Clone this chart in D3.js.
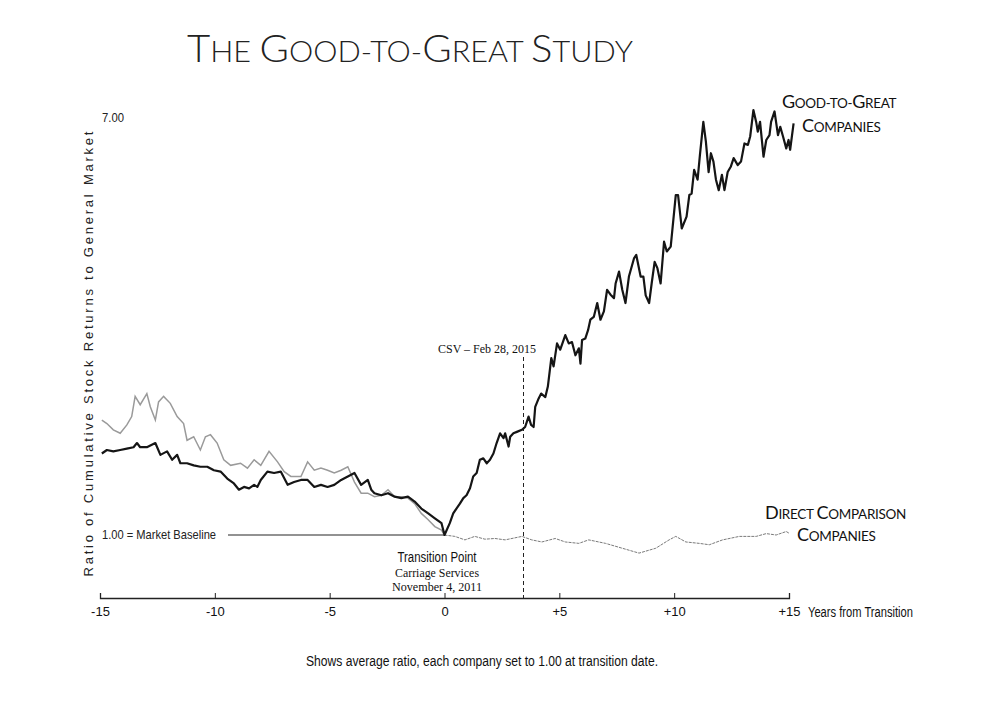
<!DOCTYPE html>
<html>
<head>
<meta charset="utf-8">
<script src="https://cdn.jsdelivr.net/npm/d3@7"></script>
<style>
  body { margin: 0; background: #fff; }
  svg { display: block; }
  .narrow { font-family: "Liberation Sans Narrow", "Arial Narrow", "Liberation Sans", sans-serif; }
  .serif { font-family: "Liberation Serif", "Times New Roman", serif; }
  .caps { font-family: "Lato", "Open Sans", sans-serif; }
</style>
</head>
<body>
<svg width="1005" height="701"></svg>
<script>
// good-to-great companies, [years from transition, ratio to market]
const goodToGreat = [
  [-14.92,2.17],[-14.70,2.22],[-14.42,2.20],[-14.12,2.22],[-13.83,2.24],[-13.54,2.26],[-13.39,2.32],
  [-13.25,2.26],[-12.96,2.26],[-12.59,2.32],[-12.37,2.15],[-12.08,2.20],[-11.86,2.08],[-11.64,2.15],
  [-11.50,2.03],[-11.21,2.03],[-10.92,2.00],[-10.63,1.98],[-10.33,1.98],[-10.04,1.93],[-9.75,1.91],
  [-9.46,1.81],[-9.17,1.74],[-8.95,1.65],[-8.73,1.69],[-8.51,1.67],[-8.29,1.72],[-8.15,1.69],
  [-8.00,1.79],[-7.71,1.91],[-7.42,1.89],[-7.13,1.91],[-6.83,1.72],[-6.55,1.76],[-6.25,1.79],
  [-5.96,1.79],[-5.67,1.69],[-5.38,1.72],[-5.09,1.69],[-4.80,1.72],[-4.50,1.79],[-4.21,1.84],
  [-3.92,1.89],[-3.63,1.72],[-3.34,1.79],[-3.19,1.65],[-3.05,1.60],[-2.75,1.57],[-2.46,1.60],
  [-2.17,1.55],[-1.88,1.53],[-1.59,1.55],[-1.30,1.48],[-1.01,1.38],[-0.71,1.31],[-0.42,1.24],
  [-0.13,1.17],[0,1.00],
  [0.23,1.17],[0.38,1.31],[0.52,1.38],[0.67,1.45],[0.82,1.53],[0.96,1.57],[1.11,1.67],[1.25,1.84],
  [1.40,1.89],[1.54,2.08],[1.69,2.10],[1.84,2.03],[1.98,2.08],[2.13,2.17],[2.27,2.32],[2.42,2.46],
  [2.57,2.39],[2.64,2.46],[2.79,2.27],[2.86,2.41],[3.00,2.46],[3.15,2.48],[3.37,2.51],[3.51,2.55],
  [3.66,2.70],[3.77,2.58],[3.88,2.55],[3.95,2.84],[4.10,2.96],[4.21,3.03],[4.39,2.98],[4.50,3.13],
  [4.65,3.54],[4.75,3.42],[4.90,3.75],[5.04,3.66],[5.26,3.87],[5.41,3.75],[5.55,3.77],[5.70,3.58],
  [5.85,3.68],[5.92,3.46],[5.99,3.80],[6.13,3.82],[6.25,3.94],[6.35,4.09],[6.50,4.13],[6.65,4.33],
  [6.79,4.09],[6.94,4.21],[7.08,4.52],[7.23,4.45],[7.38,4.40],[7.45,4.61],[7.60,4.78],[7.74,4.52],
  [7.88,4.33],[8.03,4.71],[8.25,4.97],[8.35,5.02],[8.54,4.71],[8.66,4.71],[8.76,4.44],[8.91,4.33],
  [9.02,4.61],[9.15,4.92],[9.27,4.83],[9.41,4.61],[9.56,5.21],[9.68,5.07],[9.85,5.14],[10.07,5.88],
  [10.17,5.88],[10.33,5.40],[10.54,5.57],[10.66,5.88],[10.76,5.90],[10.87,6.24],[11.02,6.10],
  [11.12,6.45],[11.27,6.93],[11.38,6.65],[11.50,6.21],[11.60,6.48],[11.71,6.36],[11.82,6.10],
  [11.94,5.95],[12.08,6.17],[12.19,5.95],[12.33,6.21],[12.47,6.29],[12.59,6.41],[12.77,6.31],
  [12.91,6.36],[13.06,6.62],[13.21,6.60],[13.31,6.72],[13.45,7.10],[13.57,6.93],[13.64,6.79],
  [13.74,6.93],[13.89,6.43],[14.01,6.67],[14.15,6.74],[14.22,6.93],[14.37,7.08],[14.52,6.74],
  [14.62,6.86],[14.74,6.72],[14.88,6.55],[14.98,6.67],[15.05,6.53],[15.20,6.91]
];

// direct comparison companies
const comparison = [
  [-14.92,2.65],[-14.70,2.60],[-14.42,2.51],[-14.12,2.46],[-13.83,2.58],[-13.62,2.70],[-13.47,2.99],
  [-13.25,2.87],[-12.96,3.03],[-12.81,2.84],[-12.59,2.65],[-12.45,2.91],[-12.23,2.99],[-11.94,2.89],
  [-11.64,2.70],[-11.36,2.60],[-11.21,2.36],[-10.92,2.41],[-10.63,2.22],[-10.41,2.41],[-10.19,2.44],
  [-9.90,2.32],[-9.61,2.08],[-9.31,2.00],[-8.88,2.03],[-8.58,1.96],[-8.29,2.08],[-8.00,2.00],
  [-7.64,2.20],[-7.27,2.05],[-6.98,1.91],[-6.69,1.84],[-6.25,1.84],[-5.96,2.05],[-5.67,1.93],
  [-5.38,1.96],[-5.09,1.93],[-4.80,1.89],[-4.50,1.93],[-4.21,1.98],[-3.92,1.76],[-3.63,1.60],
  [-3.34,1.60],[-3.05,1.55],[-2.75,1.57],[-2.46,1.65],[-2.17,1.55],[-1.88,1.55],[-1.59,1.53],
  [-1.30,1.45],[-1.01,1.31],[-0.71,1.22],[-0.42,1.12],[-0.13,1.07],[0,1.00],
  [0.45,0.98],[0.89,0.93],[1.32,0.98],[1.76,0.94],[2.20,0.95],[2.64,0.93],[3.37,0.98],[3.80,0.93],
  [4.24,0.90],[4.82,0.95],[5.26,0.90],[5.85,0.88],[6.28,0.93],[7.01,0.88],[7.74,0.81],[8.47,0.74],
  [9.20,0.81],[9.78,0.93],[10.07,0.98],[10.51,0.90],[11.09,0.88],[11.53,0.86],[12.11,0.93],
  [12.84,0.98],[13.57,0.98],[14.01,1.02],[14.44,1.00],[14.88,1.05],[15.03,1.02]
];

const xTicks = [-15, -10, -5, 0, 5, 10, 15];
const yTicks = [7];
const csvYear = 3.44;   // Feb 28, 2015

const svg = d3.select("svg");

const x = d3.scaleLinear().domain([-15, 15]).range([100, 789]);
const y = d3.scaleLinear().domain([1, 7]).range([535, 117]);
const axisY = 598;

// small caps drawn by hand: [text, isBig]
function smallCaps(sel, parts, big, small) {
  parts.forEach(function(p){
    sel.append("tspan")
      .attr("font-size", p[1] ? big : small)
      .text(p[0]);
  });
}

const title = svg.append("text")
  .attr("class", "caps")
  .attr("x", 187).attr("y", 62)
  .attr("fill", "#222")
  .attr("font-weight", 300)
  .attr("textLength", 446)
  .attr("lengthAdjust", "spacingAndGlyphs");
smallCaps(title, [["T",1],["HE ",0],["G",1],["OOD-TO-",0],["G",1],["REAT ",0],["S",1],["TUDY",0]], 38, 29);

// series labels
function label(xx, yy, parts) {
  const t = svg.append("text")
    .attr("class", "caps")
    .attr("x", xx).attr("y", yy)
    .attr("fill", "#111")
    .attr("letter-spacing", -0.3);
  smallCaps(t, parts, 18, 13.5);
}
label(782, 108, [["G",1],["OOD-TO-",0],["G",1],["REAT",0]]);
label(802, 132, [["C",1],["OMPANIES",0]]);
label(765, 519, [["D",1],["IRECT ",0],["C",1],["OMPARISON",0]]);
label(797, 541, [["C",1],["OMPANIES",0]]);

// y axis title
svg.append("text")
  .attr("transform", "translate(93,354) rotate(-90)")
  .attr("text-anchor", "middle")
  .attr("font-family", "Liberation Sans, sans-serif")
  .attr("font-size", 13)
  .attr("fill", "#222")
  .attr("textLength", 445)
  .attr("lengthAdjust", "spacing")
  .text("Ratio of Cumulative Stock Returns to General Market");

// y tick (7.00)
const gy = svg.append("g")
  .attr("transform", "translate(124,0)")
  .call(d3.axisLeft(y).tickValues(yTicks).tickSize(0).tickPadding(0)
    .tickFormat(d3.format(".2f")));
gy.select(".domain").remove();
gy.selectAll("text")
  .attr("class", "narrow")
  .attr("font-size", 12.5)
  .attr("fill", "#222")
  .attr("textLength", 22)
  .attr("lengthAdjust", "spacingAndGlyphs");

// baseline
svg.append("line")
  .attr("x1", 228).attr("x2", x(0))
  .attr("y1", y(1)).attr("y2", y(1))
  .attr("stroke", "#6e6e6e")
  .attr("stroke-width", 1.3);

svg.append("text")
  .attr("class", "narrow")
  .attr("x", 102).attr("y", y(1) + 4)
  .attr("font-size", 13)
  .attr("fill", "#222")
  .attr("textLength", 114)
  .attr("lengthAdjust", "spacingAndGlyphs")
  .text("1.00 = Market Baseline");

// csv marker
svg.append("line")
  .attr("x1", x(csvYear)).attr("x2", x(csvYear))
  .attr("y1", 357).attr("y2", axisY)
  .attr("stroke", "#222")
  .attr("stroke-width", 1)
  .attr("stroke-dasharray", "4,3");

svg.append("text")
  .attr("class", "serif")
  .attr("x", 438).attr("y", 353)
  .attr("font-size", 12)
  .attr("fill", "#111")
  .attr("textLength", 98)
  .attr("lengthAdjust", "spacingAndGlyphs")
  .text("CSV \u2013 Feb 28, 2015");

// lines
const line = d3.line()
  .x(d => x(d[0]))
  .y(d => y(d[1]));

svg.append("path")
  .datum(comparison.filter(d => d[0] <= 0))
  .attr("fill", "none")
  .attr("stroke", "#9a9a9a")
  .attr("stroke-width", 1.5)
  .attr("d", line);

svg.append("path")
  .datum(comparison.filter(d => d[0] >= 0))
  .attr("fill", "none")
  .attr("stroke", "#7a7a7a")
  .attr("stroke-width", 1)
  .attr("stroke-dasharray", "3,1")
  .attr("d", line);

svg.append("path")
  .datum(goodToGreat)
  .attr("fill", "none")
  .attr("stroke", "#151515")
  .attr("stroke-width", 2.2)
  .attr("stroke-linejoin", "round")
  .attr("d", line);

// transition notes
const note = svg.append("g")
  .attr("text-anchor", "middle")
  .attr("fill", "#111");
note.append("text").attr("class", "narrow")
  .attr("x", 437).attr("y", 562).attr("font-size", 14)
  .attr("textLength", 79).attr("lengthAdjust", "spacingAndGlyphs")
  .text("Transition Point");
note.append("text").attr("class", "serif")
  .attr("x", 437).attr("y", 577).attr("font-size", 12)
  .attr("textLength", 84).attr("lengthAdjust", "spacingAndGlyphs")
  .text("Carriage Services");
note.append("text").attr("class", "serif")
  .attr("x", 437).attr("y", 591).attr("font-size", 12)
  .attr("textLength", 90).attr("lengthAdjust", "spacingAndGlyphs")
  .text("November 4, 2011");

// x axis
const gx = svg.append("g")
  .attr("transform", "translate(0," + axisY + ")")
  .call(d3.axisBottom(x).tickValues(xTicks)
    .tickSizeInner(-5).tickSizeOuter(-5).tickPadding(9)
    .tickFormat(d => d > 0 ? "+" + d : String(d)));
gx.select(".domain").attr("stroke", "#222").attr("stroke-width", 1.3);
gx.selectAll(".tick line").attr("stroke", "#222");
gx.selectAll("text")
  .attr("class", "narrow")
  .attr("font-size", 13)
  .attr("fill", "#111");

svg.append("text")
  .attr("class", "narrow")
  .attr("x", 808).attr("y", 617)
  .attr("font-size", 14)
  .attr("fill", "#111")
  .attr("textLength", 105)
  .attr("lengthAdjust", "spacingAndGlyphs")
  .text("Years from Transition");

// footnote
svg.append("text")
  .attr("class", "narrow")
  .attr("x", 482).attr("y", 666)
  .attr("text-anchor", "middle")
  .attr("font-size", 14)
  .attr("fill", "#111")
  .attr("textLength", 352)
  .attr("lengthAdjust", "spacingAndGlyphs")
  .text("Shows average ratio, each company set to 1.00 at transition date.");
</script>
</body>
</html>
